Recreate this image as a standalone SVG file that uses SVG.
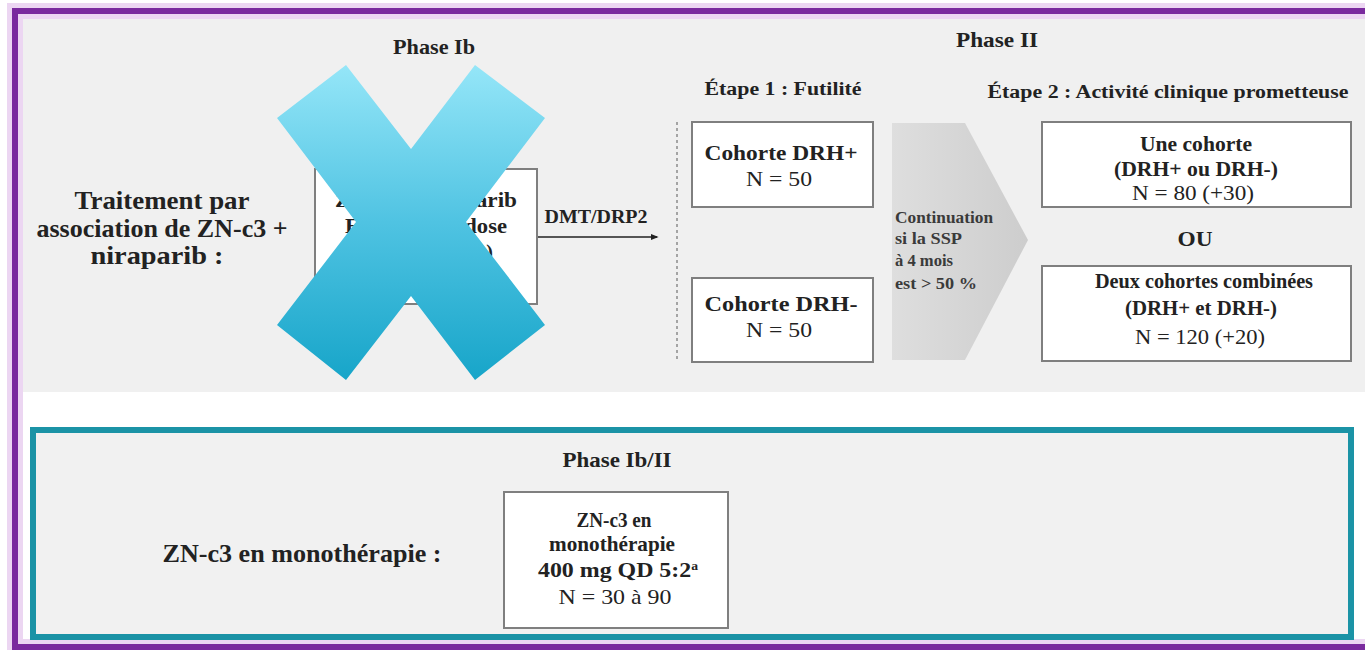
<svg xmlns="http://www.w3.org/2000/svg" width="1365" height="650" viewBox="0 0 1365 650">
  <defs>
    <style>
      .t { font-family: "Liberation Serif", "Times New Roman", serif; font-weight: bold; fill: #222; text-anchor: middle; }
      .n { font-weight: normal; }
      .box { fill: #ffffff; stroke: #7f7f7f; stroke-width: 2; }
      .small { font-family: "Liberation Serif", "Times New Roman", serif; font-weight: bold; fill: #3a3a3a; font-size: 16px; }
    </style>
    <linearGradient id="crossFill" x1="0" y1="65" x2="0" y2="380" gradientUnits="userSpaceOnUse">
      <stop offset="0" stop-color="#95e6f8"/>
      <stop offset="0.5" stop-color="#4fc3e2"/>
      <stop offset="1" stop-color="#17a5c9"/>
    </linearGradient>
    <linearGradient id="chevronFill" x1="0" y1="0" x2="1" y2="0">
      <stop offset="0" stop-color="#dedede"/>
      <stop offset="1" stop-color="#cdcdcd"/>
    </linearGradient>
    <marker id="arrowHead" viewBox="0 0 10 10" refX="8" refY="5" markerWidth="5" markerHeight="5" orient="auto">
      <path d="M0,1 L10,5 L0,9 z" fill="#222"/>
    </marker>
  </defs>

  <!-- page -->
  <rect x="0" y="0" width="1365" height="650" fill="#ffffff"/>

  <!-- combination panel background -->
  <rect x="18" y="14" width="1347" height="378" fill="#f0f0f0"/>

  <!-- outer purple frame with soft halo -->
  <rect x="15" y="11" width="1370" height="636" fill="none" stroke="#ecd6f2" stroke-width="16"/>
  <rect x="15" y="11" width="1370" height="636" fill="none" stroke="#7a2a9e" stroke-width="6"/>

  <!-- monotherapy panel -->
  <g id="mono-panel">
    <rect x="33" y="430" width="1318" height="207" fill="#f1f1f1" stroke="#1b93a6" stroke-width="6"/>
  </g>

  <!-- section headings -->
  <g id="headings">
    <text class="t" x="434" y="54" font-size="22" textLength="82" lengthAdjust="spacingAndGlyphs">Phase Ib</text>
    <text class="t" x="997" y="47" font-size="22" textLength="82" lengthAdjust="spacingAndGlyphs">Phase II</text>
    <text class="t" x="783" y="95" font-size="18" textLength="157" lengthAdjust="spacingAndGlyphs">Étape 1 : Futilité</text>
    <text class="t" x="1168" y="98" font-size="18" textLength="361" lengthAdjust="spacingAndGlyphs">Étape 2 : Activité clinique prometteuse</text>
    <text class="t" x="617" y="467" font-size="21" textLength="109" lengthAdjust="spacingAndGlyphs">Phase Ib/II</text>
  </g>

  <!-- row labels -->
  <g id="label-combo">
    <text class="t" x="162" y="209" font-size="26" textLength="175" lengthAdjust="spacingAndGlyphs">Traitement par</text>
    <text class="t" x="162" y="237" font-size="26" textLength="251" lengthAdjust="spacingAndGlyphs">association de ZN-c3 +</text>
    <text class="t" x="157" y="264" font-size="26" textLength="133" lengthAdjust="spacingAndGlyphs">niraparib :</text>
  </g>
  <g id="label-mono">
    <text class="t" x="302" y="562" font-size="26" textLength="279" lengthAdjust="spacingAndGlyphs">ZN-c3 en monothérapie :</text>
  </g>

  <!-- phase Ib dose-escalation box -->
  <g id="node-phase1b">
    <rect class="box" x="315" y="169" width="222" height="135"/>
    <text class="t" x="426" y="207" font-size="22" textLength="182" lengthAdjust="spacingAndGlyphs">ZN-c3 + niraparib</text>
    <text class="t" x="426" y="233" font-size="22" textLength="162" lengthAdjust="spacingAndGlyphs">Escalade de dose</text>
    <text class="t" x="493" y="259" font-size="20" style="text-anchor:end">)</text>
  </g>

  <!-- connectors -->
  <g id="connectors" fill="none">
    <line x1="538" y1="237" x2="657" y2="237" stroke="#222" stroke-width="1.6" marker-end="url(#arrowHead)"/>
    <line x1="677" y1="122" x2="677" y2="362" stroke="#8a8a8a" stroke-width="1.5" stroke-dasharray="3 3"/>
  </g>
  <g id="connector-label">
    <text class="t" x="596" y="223" font-size="18" textLength="103" lengthAdjust="spacingAndGlyphs">DMT/DRP2</text>
  </g>

  <!-- stage 1 cohorts -->
  <g id="node-drh-pos">
    <rect class="box" x="692" y="122" width="181" height="85"/>
    <text class="t" x="781" y="160" font-size="21" textLength="153" lengthAdjust="spacingAndGlyphs">Cohorte DRH+</text>
    <text class="t n" x="779" y="186" font-size="21" textLength="66" lengthAdjust="spacingAndGlyphs">N = 50</text>
  </g>
  <g id="node-drh-neg">
    <rect class="box" x="692" y="278" width="181" height="84"/>
    <text class="t" x="781" y="311" font-size="21" textLength="153" lengthAdjust="spacingAndGlyphs">Cohorte DRH-</text>
    <text class="t n" x="779" y="337" font-size="21" textLength="66" lengthAdjust="spacingAndGlyphs">N = 50</text>
  </g>

  <!-- continuation chevron -->
  <g id="node-continuation">
    <polygon points="892,123 965,123 1028,240 965,360 892,360" fill="url(#chevronFill)"/>
    <text class="small" x="895" y="223" textLength="98" lengthAdjust="spacingAndGlyphs">Continuation</text>
    <text class="small" x="895" y="244" textLength="67" lengthAdjust="spacingAndGlyphs">si la SSP</text>
    <text class="small" x="895" y="266" textLength="58" lengthAdjust="spacingAndGlyphs">à 4 mois</text>
    <text class="small" x="895" y="289" textLength="82" lengthAdjust="spacingAndGlyphs">est &gt; 50 %</text>
  </g>

  <!-- stage 2 options -->
  <g id="node-one-cohort">
    <rect class="box" x="1042" y="122" width="309" height="85"/>
    <text class="t" x="1196" y="151" font-size="20" textLength="112" lengthAdjust="spacingAndGlyphs">Une cohorte</text>
    <text class="t" x="1196" y="176" font-size="20" textLength="164" lengthAdjust="spacingAndGlyphs">(DRH+ ou DRH-)</text>
    <text class="t n" x="1193" y="200" font-size="21" textLength="122" lengthAdjust="spacingAndGlyphs">N = 80 (+30)</text>
  </g>
  <g id="node-or">
    <text class="t" x="1195" y="246" font-size="21" textLength="35" lengthAdjust="spacingAndGlyphs">OU</text>
  </g>
  <g id="node-two-cohorts">
    <rect class="box" x="1042" y="266" width="309" height="95"/>
    <text class="t" x="1204" y="288" font-size="20" textLength="218" lengthAdjust="spacingAndGlyphs">Deux cohortes combinées</text>
    <text class="t" x="1201" y="315" font-size="20" textLength="152" lengthAdjust="spacingAndGlyphs">(DRH+ et DRH-)</text>
    <text class="t n" x="1200" y="344" font-size="21" textLength="130" lengthAdjust="spacingAndGlyphs">N = 120 (+20)</text>
  </g>

  <!-- monotherapy box -->
  <g id="node-mono">
    <rect class="box" x="504" y="492" width="224" height="136"/>
    <text class="t" x="614" y="527" font-size="21" textLength="75" lengthAdjust="spacingAndGlyphs">ZN-c3 en</text>
    <text class="t" x="612" y="551" font-size="21" textLength="126" lengthAdjust="spacingAndGlyphs">monothérapie</text>
    <text class="t" x="618" y="577" font-size="21" textLength="160" lengthAdjust="spacingAndGlyphs">400 mg QD 5:2<tspan font-size="12" baseline-shift="super">a</tspan></text>
    <text class="t n" x="615" y="604" font-size="21" textLength="113" lengthAdjust="spacingAndGlyphs">N = 30 à 90</text>
  </g>

  <!-- cross struck over the phase Ib arm -->
  <g id="cross">
    <polygon points="346,65 411,149 475,65 545,118 466,222 545,325 475,380 411,296 346,380 277,325 356,222 277,118" fill="url(#crossFill)"/>
  </g>
</svg>
